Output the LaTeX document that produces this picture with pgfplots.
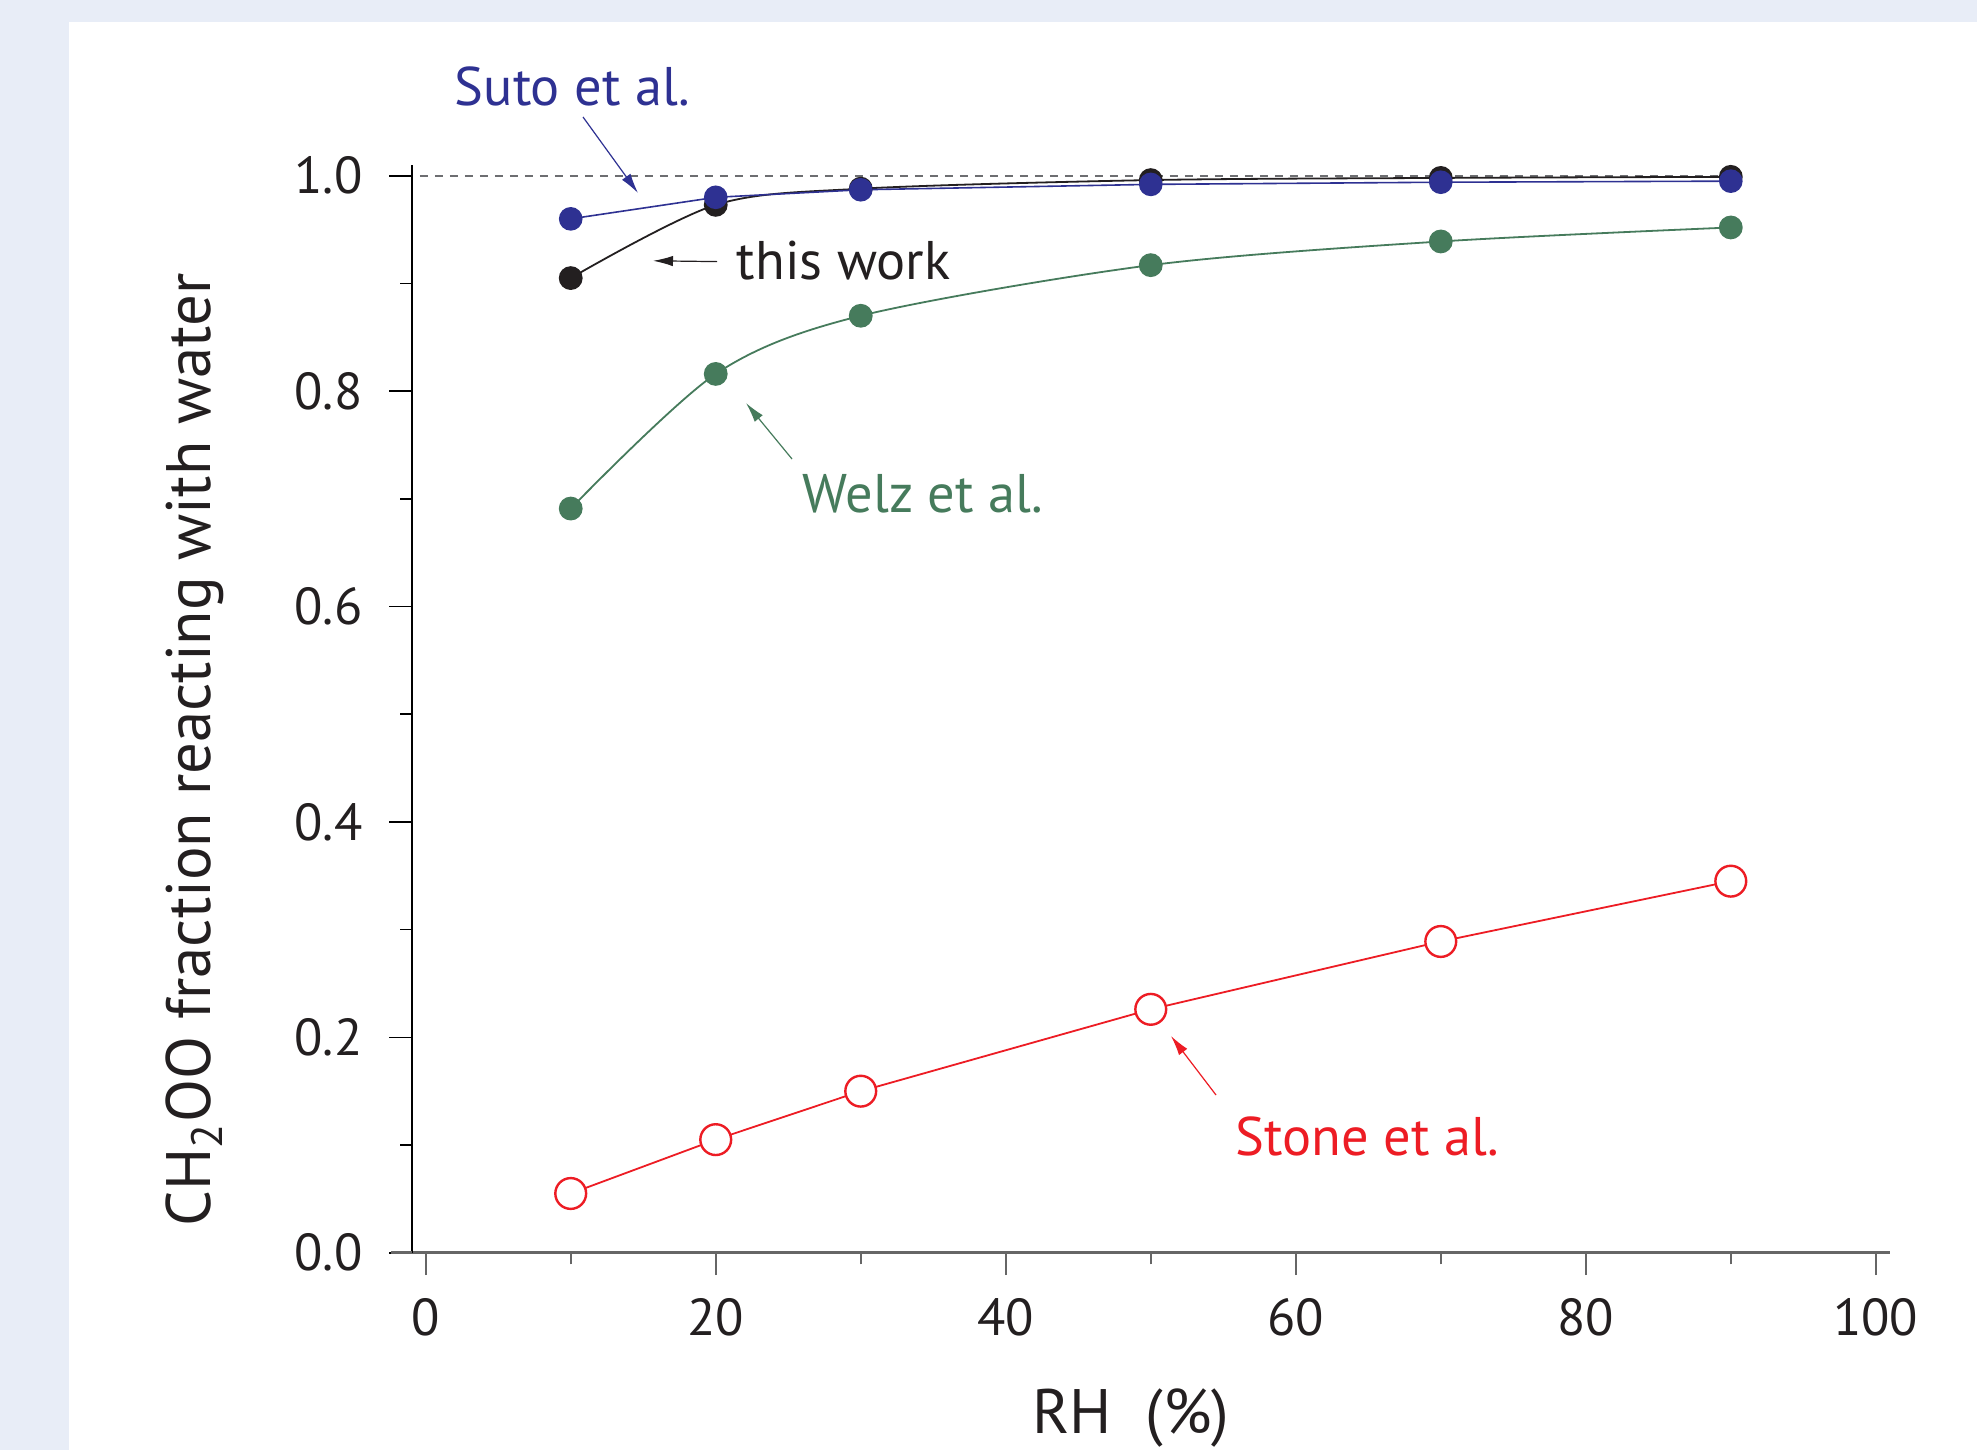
\documentclass[border=0pt]{standalone}
\usepackage{pgfplots}
\pgfplotsset{compat=1.18}
\usepackage{fontspec}
\setmainfont{PT Sans}
\usetikzlibrary{arrows.meta}
\definecolor{bgblue}{HTML}{E8EDF7}
\definecolor{sutoblue}{HTML}{2E3192}
\definecolor{welzgreen}{HTML}{467B5C}
\definecolor{stonered}{HTML}{ED1C24}
\definecolor{twblack}{HTML}{231F20}
\definecolor{axisgrey}{HTML}{666666}
\definecolor{dashgrey}{HTML}{6D6E71}
\begin{document}
\begin{tikzpicture}
\useasboundingbox (0,0) rectangle (494.25pt,362.5pt);
\fill[bgblue] (0,0) rectangle (494.25pt,362.5pt);
\fill[white] (17.25pt,0) rectangle (494.25pt,357pt);
\begin{axis}[
  at={(102.925pt,49.325pt)}, anchor=south west,
  scale only axis, width=369.575pt, height=271.925pt,
  xmin=-0.966, xmax=100.98, ymin=0, ymax=1.01,
  clip=false,
  axis x line*=bottom, axis y line*=left,
  x axis line style={draw=axisgrey, line width=0.75pt},
  y axis line style={draw=black, line width=0.4pt},
  xtick={0,20,...,100}, minor xtick={10,30,50,70,90},
  ytick={0,0.2,0.4,0.6,0.8,1.0}, minor ytick={0.1,0.3,0.5,0.7,0.9},
  tick align=outside,
  major tick length=5.6pt, minor tick length=2.9pt,
  xtick style={draw=axisgrey, line width=0.5pt},
  ytick style={draw=black, line width=0.4pt},
  /pgf/number format/assume math mode=true,
  ticklabel style={font=\fontsize{13}{15}\selectfont, text=twblack},
  yticklabel style={xshift=-3.2pt},
  yticklabel style={/pgf/number format/.cd, fixed, fixed zerofill, precision=1},
  xticklabel style={yshift=-2.2pt},
]
\draw[dashgrey, line width=0.4pt, dash pattern=on 2pt off 1.75pt] (axis cs:-0.4,1) -- (axis cs:90,1);
\draw[axisgrey, line width=0.75pt] (axis cs:-2.4,0) -- (axis cs:-0.966,0);
\addplot[stonered, line width=0.45pt, mark=*, mark size=3.85pt,
  mark options={fill=white, draw=stonered, line width=0.6pt}] coordinates {
  (10,0.055) (20,0.105) (30,0.150) (50,0.226) (70,0.289) (90,0.345)};
\addplot[welzgreen, line width=0.45pt, smooth, mark=*, mark size=2.75pt,
  mark options={fill=welzgreen, draw=none}] coordinates {
  (10,0.691) (20,0.816) (30,0.870) (50,0.917) (70,0.939) (90,0.952)};
\addplot[twblack, line width=0.45pt, smooth, mark=*, mark size=2.75pt,
  mark options={fill=twblack, draw=none}] coordinates {
  (10,0.905) (20,0.973) (30,0.988) (50,0.996) (70,0.998) (90,0.999)};
\addplot[sutoblue, line width=0.4pt, mark=*, mark size=2.75pt,
  mark options={fill=sutoblue, draw=none}] coordinates {
  (10,0.960) (20,0.980) (30,0.987) (50,0.992) (70,0.994) (90,0.995)};
\end{axis}
% annotations
\node[anchor=west, inner sep=0pt, text=sutoblue, font=\fontsize{13.6}{16}\selectfont] at (113.5pt,341pt) {Suto et al.};
\draw[sutoblue, line width=0.3pt, -{Latex[length=5pt,width=2.6pt]}] (145.75pt,333.25pt) -- (159.5pt,314.25pt);
\node[anchor=west, inner sep=0pt, text=twblack, font=\fontsize{13.6}{16}\selectfont] at (184pt,297.25pt) {this work};
\draw[twblack, line width=0.3pt, -{Latex[length=5pt,width=2.6pt]}] (179.25pt,297.1pt) -- (163.25pt,297.3pt);
\node[anchor=west, inner sep=0pt, text=welzgreen, font=\fontsize{13.6}{16}\selectfont] at (200.5pt,239pt) {Welz et al.};
\draw[welzgreen, line width=0.3pt, -{Latex[length=5pt,width=2.6pt]}] (198pt,247.75pt) -- (186.5pt,261.75pt);
\node[anchor=west, inner sep=0pt, text=stonered, font=\fontsize{13.6}{16}\selectfont] at (308.75pt,78.5pt) {Stone et al.};
\draw[stonered, line width=0.3pt, -{Latex[length=5pt,width=2.6pt]}] (304pt,88.75pt) -- (292.75pt,103.5pt);
% axis labels
\node[rotate=90, inner sep=0pt, text=twblack, font=\fontsize{15.7}{18}\selectfont] at (48.75pt,175pt) {CH\textsubscript{2}OO fraction reacting with water};
\node[anchor=base, inner sep=0pt, text=twblack, font=\fontsize{15.7}{18}\selectfont] at (282.75pt,4.2pt) {RH\ \ (\%)};
\end{tikzpicture}
\end{document}
